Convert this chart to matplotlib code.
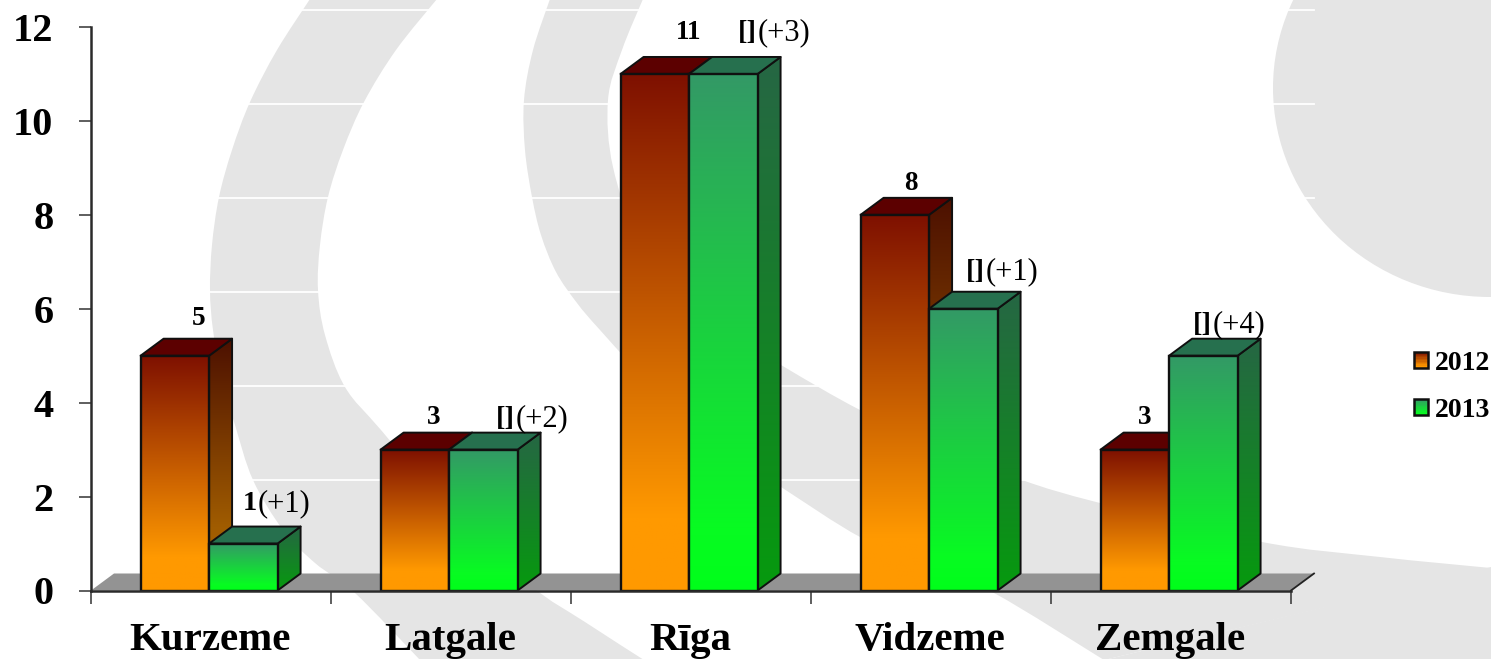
#======================================================================
# 3D looking grouped bars, 2012 vs 2013 per region
#======================================================================
import numpy as np
import matplotlib
matplotlib.use('Agg')
import matplotlib.pyplot as plt
from matplotlib.colors import LinearSegmentedColormap
from matplotlib.legend_handler import HandlerBase
from matplotlib.patches import Ellipse, PathPatch, Polygon, Rectangle
from matplotlib.path import Path

plt.rcParams['font.family'] = ['Liberation Serif', 'DejaVu Serif']

# ------------------ data ------------------
regions = ['Kurzeme', 'Latgale', 'Rīga', 'Vidzeme', 'Zemgale']
years = ['2012', '2013']
values_2012 = [5, 3, 11, 8, 3]
values_2013 = [1, 3, 11, 6, 5]
labels_2012 = ['5', '3', '11', '8', '3']
labels_2013_main = ['1', '[]', '[]', '[]', '[]']
labels_2013_diff = ['(+1)', '(+2)', '(+3)', '(+1)', '(+4)']
y_ticks = [0, 2, 4, 6, 8, 10, 12]

# ------------------ layout (px) ------------------
W, H = 1491, 659
AX_L, AX_R, AX_B, AX_T = 91, 1291, 590.5, 27
BAR_W = 68.5 / 240
DX = 23 / 240        # depth of the fake 3D, in category units
DY = 17 / 46.96      # depth of the fake 3D, in value units
GROUP_SHIFT = -0.008
# hand placed labels, offset from bar centre / bar top in px
off_2012 = [(24, 39), (19, 34), (34, 43), (16, 33), (10, 34)]
off_2013 = [(14, 42), (32, 33), (34, 43), (22, 39), (9, 33)]

# ------------------ colours ------------------
front_12 = LinearSegmentedColormap.from_list('f12', [(0, '#ff9900'), (.14, '#ff9900'), (1, '#7e1000')])
front_13 = LinearSegmentedColormap.from_list('f13', [(0, '#00ff1a'), (.12, '#08fb22'), (1, '#339966')])
side_12 = LinearSegmentedColormap.from_list('s12', [(0, '#a86400'), (.25, '#a05c00'), (1, '#4c1000')])
side_13 = LinearSegmentedColormap.from_list('s13', [(0, '#069a0e'), (1, '#266644')])
top_12 = '#5c0000'
top_13 = '#26704e'
EDGE = '#101010'
BG_GRAY = '#e5e5e5'


def smooth_path(pts):
    # Catmull-Rom through the points, returned as bezier vertices
    pts = np.array(pts, float)
    p = np.vstack([pts[0], pts, pts[-1]])
    verts = [pts[0]]
    for i in range(1, len(p) - 2):
        verts += [p[i] + (p[i + 1] - p[i - 1]) / 6, p[i + 1] - (p[i + 2] - p[i]) / 6, p[i + 1]]
    return verts


def band(ax, edge_a, edge_b):
    # closed gray shape from two smooth edges
    va = smooth_path(edge_a)
    vb = smooth_path(edge_b)
    verts = va + vb + [va[0]]
    codes = [Path.MOVETO] + [Path.CURVE4] * (len(va) - 1) + [Path.LINETO] + [Path.CURVE4] * (len(vb) - 1) + [Path.CLOSEPOLY]
    ax.add_patch(PathPatch(Path(verts, codes), fc=BG_GRAY, ec='none'))


def gradient(ax, cmap, extent, z, clip=None):
    grad = np.linspace(1, 0, 256).reshape(-1, 1)
    im = ax.imshow(grad, cmap=cmap, vmin=0, vmax=1, extent=extent, aspect='auto', zorder=z)
    if clip is not None:
        im.set_clip_path(clip)
    return im


def draw_bar(ax, x0, v, front, side, top, z):
    x1 = x0 + BAR_W
    # side face
    side_poly = Polygon([(x1, 0), (x1 + DX, DY), (x1 + DX, v + DY), (x1, v)], closed=True,
                        fc='none', ec=EDGE, lw=1.4, zorder=z + .2, joinstyle='round')
    ax.add_patch(side_poly)
    clip = Polygon(side_poly.get_xy(), closed=True, transform=ax.transData)
    gradient(ax, side, (x1, x1 + DX, 0, v + DY), z + .1, clip)
    # top face
    ax.add_patch(Polygon([(x0, v), (x1, v), (x1 + DX, v + DY), (x0 + DX, v + DY)], closed=True,
                         fc=top, ec=EDGE, lw=1.4, zorder=z + .2, joinstyle='round'))
    # front face
    gradient(ax, front, (x0, x1, 0, v), z + .3)
    ax.add_patch(Rectangle((x0, 0), BAR_W, v, fc='none', ec=EDGE, lw=1.7, zorder=z + .4))


class GradientHandler(HandlerBase):
    # legend key: stacked strips for the gradient, dark outline on top
    def __init__(self, cmap):
        super().__init__()
        self.cmap = cmap

    def create_artists(self, legend, orig, xd, yd, width, height, fontsize, trans):
        n = 12
        out = []
        for k in range(n):
            out.append(Rectangle((-xd, -yd + height * k / n), width, height / n + .3,
                                 fc=self.cmap((k + .5) / n), ec='none', transform=trans))
        out.append(Rectangle((-xd, -yd), width, height, fc='none', ec=EDGE, lw=1.8, transform=trans))
        return out


fig = plt.figure(figsize=(W / 100, H / 100), dpi=100, facecolor='white')

# ------------------ background swooshes (figure px) ------------------
bg = fig.add_axes([0, 0, 1, 1], zorder=0)
bg.set_xlim(0, W)
bg.set_ylim(H, 0)
bg.axis('off')
band(bg,
     [(310, -1), (277, 50), (250, 102), (232, 150), (219, 197), (212, 245), (210, 290), (213, 330), (222, 380),
      (235, 425), (253, 480), (283, 530), (315, 563), (355, 593), (420, 660)],
     [(644, 660), (585, 622), (530, 585), (450, 510), (381, 430), (345, 387), (325, 335), (318, 290), (320, 245),
      (328, 197), (343, 150), (364, 102), (396, 50), (437, -1)])
band(bg,
     [(550, -1), (533, 50), (524, 100), (525, 150), (532, 197), (541, 235), (556, 272), (577, 303), (600, 330),
      (660, 395), (720, 447), (781, 487), (860, 537), (930, 567), (994, 593), (1104, 660)],
     [(1491, 568), (1380, 557), (1262, 542), (1100, 503), (1022, 480), (940, 447), (860, 410), (781, 365),
      (700, 315), (640, 240), (613, 167), (608, 100), (622, 50), (643, -1)])
bg.fill([1100, 1491, 1491], [661, 661, 567], color=BG_GRAY, lw=0)
bg.add_patch(Ellipse((1490, 88), 2 * 217, 2 * 209, fc=BG_GRAY, ec='none'))

# ------------------ main axes ------------------
ax = fig.add_axes([AX_L / W, 1 - AX_B / H, (AX_R - AX_L) / W, (AX_B - AX_T) / H], zorder=1)
ax.patch.set_visible(False)
n_cat = len(regions)

# white gridlines on the back wall
for t in y_ticks[1:]:
    ax.plot([DX, n_cat + DX], [t + DY, t + DY], color='white', lw=1.3, zorder=1, clip_on=False)

# floor
ax.add_patch(Polygon([(0, 0), (n_cat, 0), (n_cat + DX, DY), (DX, DY)], closed=True,
                     fc='#939393', ec='none', zorder=2, clip_on=False))
ax.plot([n_cat, n_cat + DX], [0, DY], color='#222222', lw=1.3, zorder=2.5, clip_on=False)

for i in range(n_cat):
    c = i + .5 + GROUP_SHIFT
    draw_bar(ax, c - BAR_W, values_2012[i], front_12, side_12, top_12, 3 + i)
    draw_bar(ax, c, values_2013[i], front_13, side_13, top_13, 3.5 + i)

    ax.annotate(labels_2012[i], xy=(c - BAR_W / 2, values_2012[i]), xytext=(off_2012[i][0], off_2012[i][1] - 2),
                textcoords='offset pixels', ha='center', va='center', fontsize=19.5,
                fontweight='bold', zorder=20)
    ax.annotate(labels_2013_main[i], xy=(c + BAR_W / 2, values_2013[i]), xytext=(off_2013[i][0], off_2013[i][1] - 2),
                textcoords='offset pixels', ha='right', va='center', fontsize=20.5,
                fontweight='bold', zorder=20)
    ax.annotate(labels_2013_diff[i], xy=(c + BAR_W / 2, values_2013[i]), xytext=(off_2013[i][0], off_2013[i][1] - 2),
                textcoords='offset pixels', ha='left', va='center', fontsize=22,
                color='black', zorder=20)

ax.set_xlim(0, n_cat)
ax.set_ylim(0, y_ticks[-1])

for s in ['top', 'right']:
    ax.spines[s].set_visible(False)
for s in ['left', 'bottom']:
    ax.spines[s].set_color('#2a2a2a')
    ax.spines[s].set_linewidth(1.8)
    ax.spines[s].set_zorder(15)

ax.set_yticks(y_ticks)
ax.set_yticklabels([str(t) for t in y_ticks], fontsize=29, fontweight='bold')
ax.tick_params(axis='y', length=9, width=1.1, color='#333333', pad=18)

ax.set_xticks(np.arange(n_cat + 1))
ax.set_xticklabels([])
ax.set_xticks(np.arange(n_cat) + .5 + GROUP_SHIFT / 2, minor=True)
ax.set_xticklabels(regions, minor=True, fontsize=29.4, fontweight='bold')
ax.tick_params(axis='x', which='major', length=9, width=1.1, color='#333333')
ax.tick_params(axis='x', which='minor', length=0, pad=23)

handles = [Rectangle((0, 0), 1, 1, label=y) for y in years]
ax.legend(handles=handles, labels=years, frameon=False,
          prop={'size': 20, 'weight': 'bold'},
          handler_map={handles[0]: GradientHandler(front_12), handles[1]: GradientHandler(front_13)},
          handlelength=.52, handleheight=.52, handletextpad=.22, labelspacing=.8,
          borderpad=0, borderaxespad=0,
          loc='upper left', bbox_to_anchor=(1414 / W, 1 - 351 / H), bbox_transform=fig.transFigure)

fig.savefig('out.png', dpi=100)
print("Completed Successfully ...")
